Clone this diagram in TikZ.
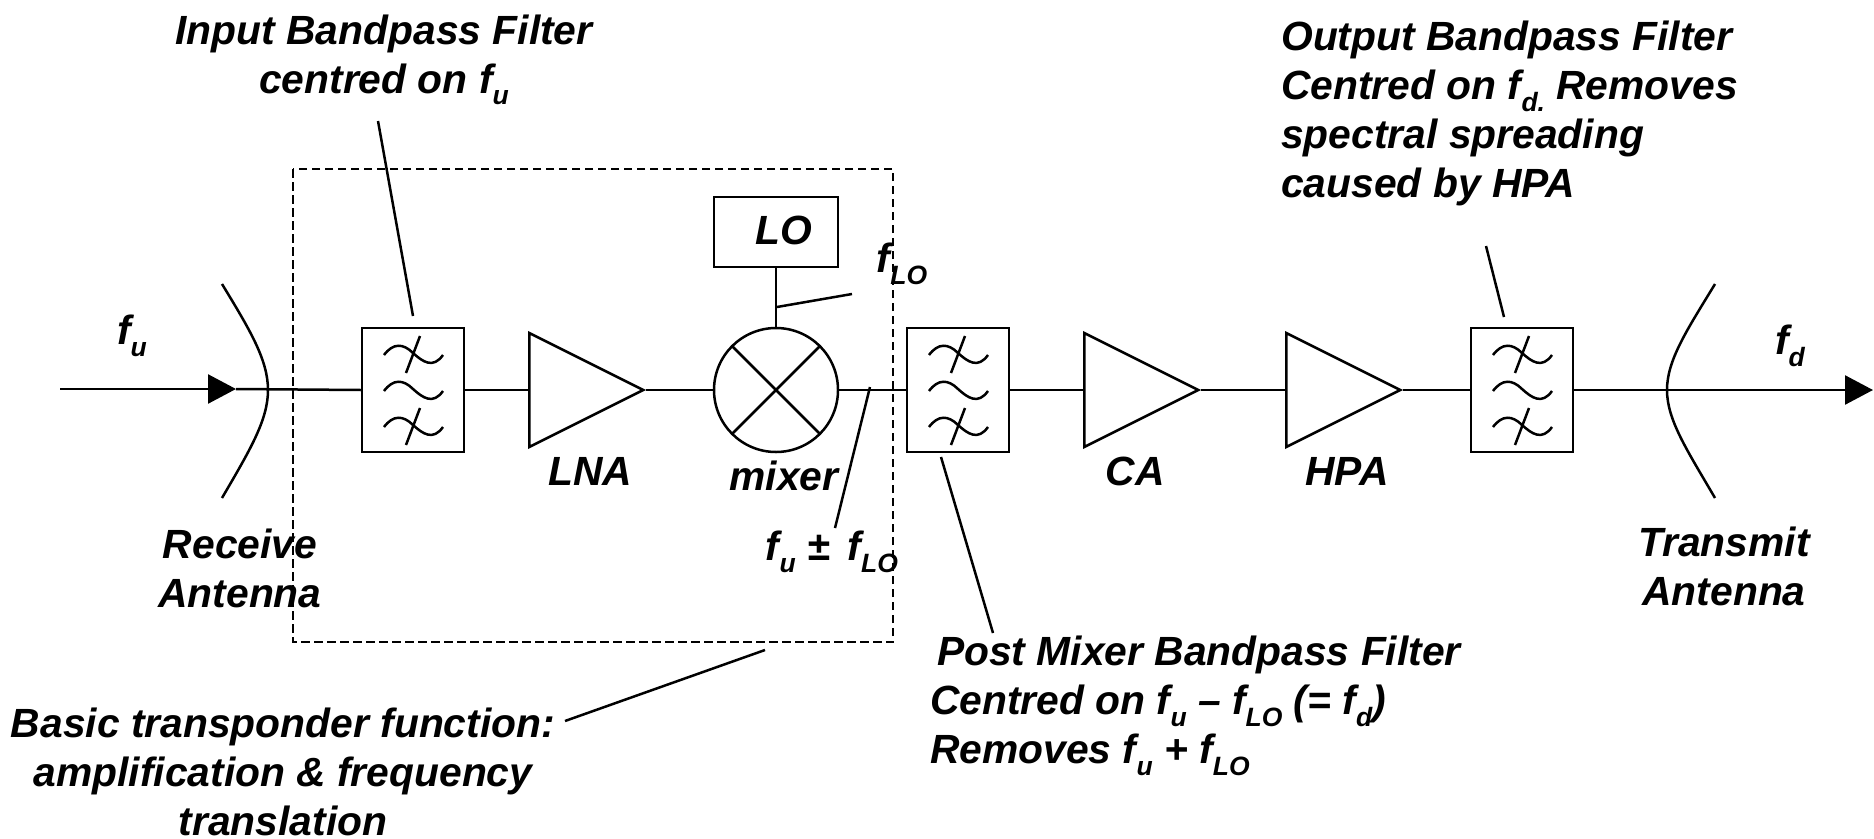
\documentclass[tikz,border=0pt]{standalone}
\usepackage{fontspec}
\setmainfont{Liberation Sans}
\usetikzlibrary{arrows.meta,shapes.geometric}

\newcommand{\low}[1]{\raisebox{-0.28em}{\fontsize{26.5}{26.5}\selectfont #1}}

\tikzset{
    lbl/.style={font=\fontsize{40.8}{49}\selectfont\bfseries\itshape, inner sep=0pt, align=center},
    lblleft/.style={lbl, align=left, anchor=north west},
    filterbox/.style={draw, rectangle, inner sep=0pt, minimum width=102pt, minimum height=124pt},
    ampbox/.style={draw, isosceles triangle, isosceles triangle apex angle=53.13, isosceles triangle stretches, inner sep=0pt, minimum width=114pt, minimum height=114pt, anchor=west},
    filtersym/.pic={
        % three waves, the outer two struck through
        \foreach \dy in {-36,0,36} {
            \draw (-29,1+\dy) .. controls (-20,-11+\dy) and (-10,-11+\dy) .. (0,-1+\dy) .. controls (10,8+\dy) and (20,15+\dy) .. (30,1+\dy);
        }
        \draw (7,-54) -- (-7,-17);
        \draw (7,18) -- (-7,55);
    }
}

\begin{document}
\begin{tikzpicture}[x=1pt, y=-1pt, line width=2.5pt]
    \useasboundingbox (0,0) rectangle (1874,838);

    % Blocks
    \node[filterbox] (inputfilter) at (413,390) {};
    \node[ampbox] (lna) at (528,390) {};
    \node[draw, circle, inner sep=0pt, minimum size=124pt] (mixer) at (776,390) {};
    \node[draw, rectangle, inner sep=0pt, minimum width=124pt, minimum height=70pt] (lo) at (776,232) {};
    \node[filterbox] (postfilter) at (958,390) {};
    \node[ampbox] (ca) at (1083,390) {};
    \node[ampbox] (hpa) at (1285,390) {};
    \node[filterbox] (outputfilter) at (1522,390) {};

    \pic at (inputfilter) {filtersym};
    \pic at (postfilter) {filtersym};
    \pic at (outputfilter) {filtersym};

    % Cross in the mixer
    \draw (mixer.north west) -- (mixer.south east);
    \draw (mixer.north east) -- (mixer.south west);

    % Antennas
    \draw (222,284) .. controls (250,330) and (268,360) .. (268,390) coordinate (rxdish) .. controls (268,420) and (250,450) .. (222,498);
    \draw (1715,284) .. controls (1687,330) and (1667,360) .. (1667,390) coordinate (txdish) .. controls (1667,420) and (1687,450) .. (1715,498);

    % Signal path
    \coordinate (rxstart) at (60,389);
    \coordinate (rxtip) at (236,389);
    \coordinate (txend) at (1873,390);
    \draw[-{Triangle[length=28pt,width=29pt]}] (rxstart) -- (rxtip);
    \draw (rxtip) -- (inputfilter.west);
    \draw (inputfilter.east) -- (lna.west);
    \draw (lna.apex) -- (mixer.west);
    \draw (mixer.east) -- (postfilter.west);
    \draw (postfilter.east) -- (ca.west);
    \draw (ca.apex) -- (hpa.west);
    \draw (hpa.apex) -- (outputfilter.west);
    \draw[-{Triangle[length=28pt,width=29pt]}] (outputfilter.east) -- (txend);
    \draw (lo.south) -- (mixer.north);

    % Transponder function outline
    \draw[dash pattern=on 8.5pt off 4.5pt] (293,169) rectangle (893,642);

    % Labels
    \node[lbl] (lblinput) at (384,60) {Input Bandpass Filter\\centred on f\low{u}};
    \node[lblleft] (lbloutput) at (1280,20) {Output Bandpass Filter\\Centred on f\low{d.} Removes\\spectral spreading\\caused by HPA};
    \node[lbl] (lblfu) at (132,336) {f\low{u}};
    \node[lbl] (lblfd) at (1790,346) {f\low{d}};
    \node[lbl] (lbllo) at (784,230) {LO};
    \node[lbl] (lblflo) at (902,264) {f\low{LO}};
    \node[lbl] (lbllna) at (590,471) {LNA};
    \node[lbl] (lblmixer) at (784,476) {mixer};
    \node[lbl] (lblca) at (1135,471) {CA};
    \node[lbl] (lblhpa) at (1347,471) {HPA};
    \node[lbl] (lblsum) at (832,552) {f\low{u} ±\, f\low{LO}};
    \node[lbl] (lblrx) at (240,568) {Receive\\Antenna};
    \node[lbl] (lbltx) at (1724,566) {Transmit\\Antenna};
    \node[lblleft] (lblpost) at (929,635) {\,Post Mixer Bandpass Filter\\Centred on f\low{u} -- f\low{LO} (= f\low{d})\\Removes f\low{u} + f\low{LO}};
    \node[lbl] (lblbasic) at (283,772) {Basic transponder function:\\amplification \& frequency\\translation};

    % Leader lines
    \coordinate (inputfoot) at (378,121);
    \coordinate (inputhead) at (413,316);
    \draw (inputfoot) -- (inputhead);
    \coordinate (outputfoot) at (1486,246);
    \coordinate (outputhead) at (1504,317);
    \draw (outputfoot) -- (outputhead);
    \coordinate (postfoot) at (941,457);
    \coordinate (posthead) at (993,633);
    \draw (postfoot) -- (posthead);
    \coordinate (sumfoot) at (870,387);
    \coordinate (sumhead) at (835,528);
    \draw (sumfoot) -- (sumhead);
    \coordinate (flofoot) at (777,307);
    \coordinate (flohead) at (852,294);
    \draw (flofoot) -- (flohead);
    \coordinate (basicfoot) at (765,650);
    \coordinate (basichead) at (565,721);
    \draw (basicfoot) -- (basichead);
\end{tikzpicture}
\end{document}
